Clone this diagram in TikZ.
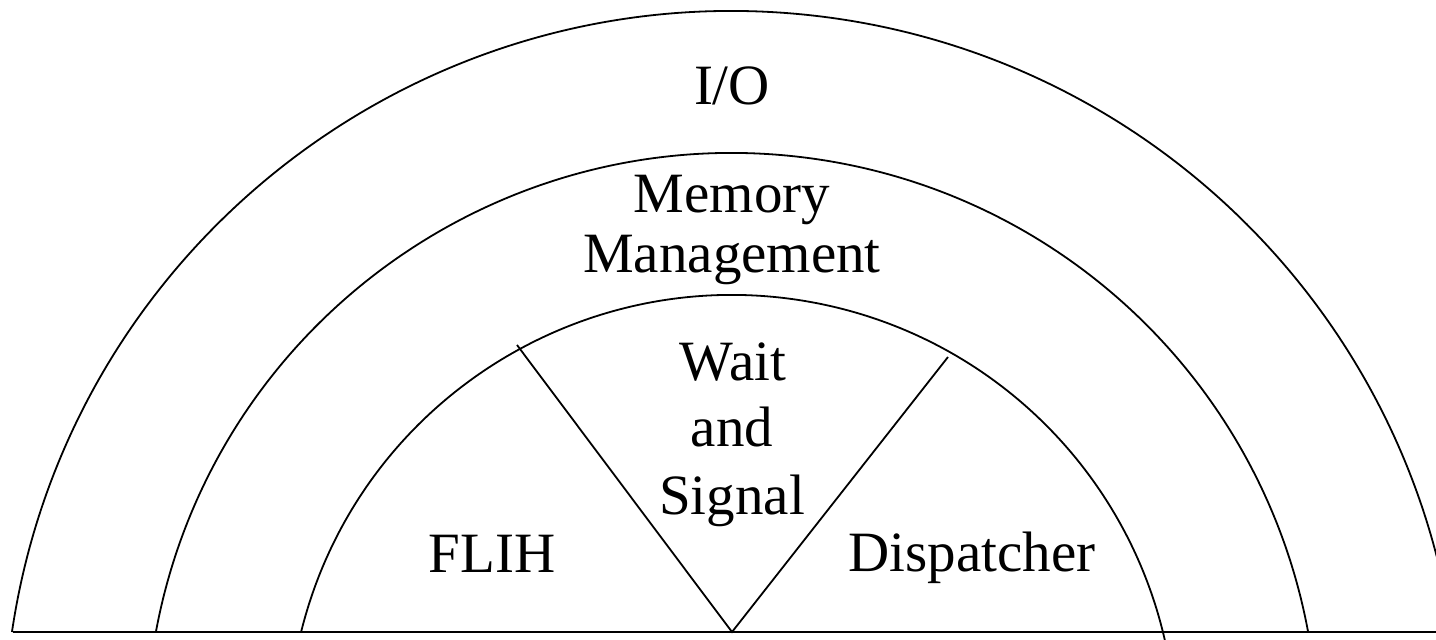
\documentclass[tikz,border=0pt]{standalone}
\usepackage{fontspec}
\setmainfont{Liberation Serif}
\begin{document}
\begin{tikzpicture}[x=1pt,y=1pt,
  ring/.style={line width=1.8pt},
  baseln/.style={line width=2.6pt},
  divider/.style={line width=1.8pt},
  lbl/.style={font=\fontsize{57}{60}\selectfont, anchor=base, inner sep=0pt}]
\useasboundingbox (0,0) rectangle (1436,640);
\clip (0,0) rectangle (1436,640);
\coordinate (ctr) at (732,-99);
% rings
\draw[ring] (ctr) ++(166.06:444) coordinate (innerL) arc[start angle=166.06, end angle=12.88, radius=444] coordinate (innerR);
\draw[ring] (ctr) ++(169.48:586) coordinate (midL) arc[start angle=169.48, end angle=10.52, radius=586] coordinate (midR);
\draw[ring] (ctr) ++(171.55:728) coordinate (outL) arc[start angle=171.55, end angle=8.45, radius=728] coordinate (outR);
% base line
\coordinate (baseL) at (13,8);
\coordinate (baseR) at (1436,8);
\draw[baseln] (baseL) -- (baseR);
% V dividers
\coordinate (apex) at (732,8);
\coordinate (vL) at (517,295);
\coordinate (vR) at (948,283);
\draw[divider] (vL) -- (apex) -- (vR);
% labels
\node[lbl] (io) at (732,535) {I/O};
\node[lbl] (mem1) at (732,427) {Memory};
\node[lbl] (mem2) at (732,367) {Management};
\node[lbl] (ws1) at (733,259) {Wait};
\node[lbl] (ws2) at (732,193) {and};
\node[lbl] (ws3) at (732,125) {Signal};
\node[lbl] (flih) at (492,67) {FLIH};
\node[lbl] (disp) at (972,68) {Dispatcher};
\end{tikzpicture}
\end{document}
